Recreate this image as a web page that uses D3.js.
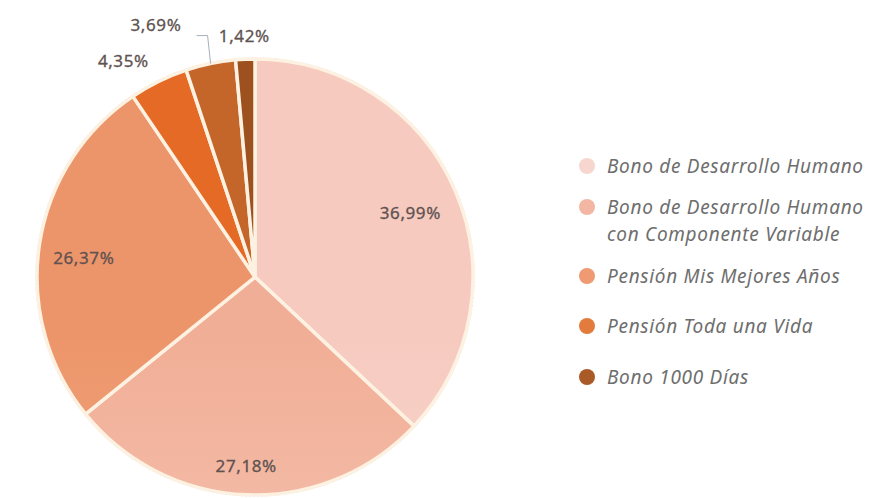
<!DOCTYPE html>
<html>
<head>
<meta charset="utf-8">
<script src="https://cdn.jsdelivr.net/npm/d3@7"></script>
<style>
  body { margin: 0; background: #fff; }
  svg { display: block; }
</style>
</head>
<body>
<svg id="chart" width="890" height="498"></svg>
<script>
// slice values, clockwise from 12 o'clock
const values = [36.99, 27.18, 26.37, 4.35, 3.69, 1.42];
const valueLabels = ["36,99%", "27,18%", "26,37%", "4,35%", "3,69%", "1,42%"];
// legend (the 3,69% slice has no legend entry in the original)
const legendNames = [
  ["Bono de Desarrollo Humano"],
  ["Bono de Desarrollo Humano", "con Componente Variable"],
  ["Pensión Mis Mejores Años"],
  ["Pensión Toda una Vida"],
  ["Bono 1000 Días"]
];

const sliceTop = ["#f6cabf", "#f1ae96", "#ed956a", "#e46a26", "#c4662a", "#9c511e"];
const sliceBot = ["#fae0d9", "#f7cbbb", "#f3b598", "#ea7a36", "#cc7030", "#a65822"];
const legendColors = ["#f7d6cf", "#f2b6a2", "#ef9a72", "#e27b3c", "#a95a27"];

const svg = d3.select("#chart");
const cx = 255, cy = 277, R = 218;

let defs = svg.append("defs");
values.forEach((v, i) => {
  let g = defs.append("linearGradient")
    .attr("id", "grad_" + i)
    .attr("gradientUnits", "userSpaceOnUse")
    .attr("x1", 0).attr("y1", cy - R)
    .attr("x2", 0).attr("y2", cy + R);
  g.append("stop").attr("offset", "0%").attr("stop-color", sliceTop[i]);
  g.append("stop").attr("offset", "100%").attr("stop-color", sliceBot[i]);
});

let group = svg.append("g")
  .attr("transform", `translate(${cx}, ${cy})`);

// faint outline around the pie
group.append("circle")
  .attr("r", R + 1)
  .attr("fill", "none")
  .attr("stroke", "#ddd6d3")
  .attr("stroke-width", 1.2)
  .attr("stroke-dasharray", "2,2");

let pie = d3.pie().sort(null).value(d => d);
let arc = d3.arc().innerRadius(0).outerRadius(R);
let arcs = pie(values);

group.selectAll(".slice")
  .data(arcs)
  .enter()
  .append("path")
  .attr("class", "slice")
  .attr("d", arc)
  .attr("fill", (d, i) => `url(#grad_${i})`)
  .attr("stroke", "#fdf1e2")
  .attr("stroke-width", 3.5)
  .attr("stroke-linejoin", "round");

// label radius (as fraction of R) and small angular shift, per slice
const labelR = [0.77, 0.87, 0.79, 1.16, 1.24, 1.105];
const labelShift = [0.02, 0.01, -0.04, -0.09, -0.17, 0];

let toXY = (angle, r) => [Math.sin(angle) * r, -Math.cos(angle) * r];

group.selectAll(".val")
  .data(arcs)
  .enter()
  .append("text")
  .attr("class", "val")
  .attr("transform", (d, i) => {
    let a = (d.startAngle + d.endAngle) / 2 + labelShift[i];
    return "translate(" + toXY(a, R * labelR[i]) + ")";
  })
  .attr("dy", "0.35em")
  .attr("text-anchor", "middle")
  .style("font-family", "'Noto Sans', sans-serif")
  .style("font-size", "17px")
  .style("letter-spacing", "0.6px")
  .style("fill", "#605250")
  .style("stroke", "#605250")
  .style("stroke-width", 0.3)
  .text((d, i) => valueLabels[i]);

// leader line for the 3,69% label
let d5 = arcs[4];
let mid5 = (d5.startAngle + d5.endAngle) / 2;
let p0 = toXY(mid5, R);
let p1 = [p0[0] - 3, p0[1] - 28];
let p2 = [p1[0] - 11, p1[1]];
group.append("path")
  .attr("d", d3.line()([p0, p1, p2]))
  .attr("fill", "none")
  .attr("stroke", "#a8b0b8")
  .attr("stroke-width", 1);

// legend
let legend = svg.append("g").attr("transform", "translate(587, 0)");
const legendY = [166, 207, 276, 326, 377];
let items = legend.selectAll(".item")
  .data(legendNames)
  .enter()
  .append("g")
  .attr("class", "item")
  .attr("transform", (d, i) => `translate(0, ${legendY[i]})`);

items.append("circle")
  .attr("r", 8)
  .attr("fill", (d, i) => legendColors[i]);

items.append("text")
  .attr("x", 20)
  .style("font-family", "'Noto Sans', sans-serif")
  .style("font-style", "italic")
  .style("font-size", "19px")
  .style("letter-spacing", "0.7px")
  .style("fill", "#6e6e6e")
  .selectAll("tspan")
  .data(d => d)
  .enter()
  .append("tspan")
  .attr("x", 20)
  .attr("y", (d, i) => i * 27)
  .attr("dy", "0.35em")
  .text(d => d);
</script>
</body>
</html>
